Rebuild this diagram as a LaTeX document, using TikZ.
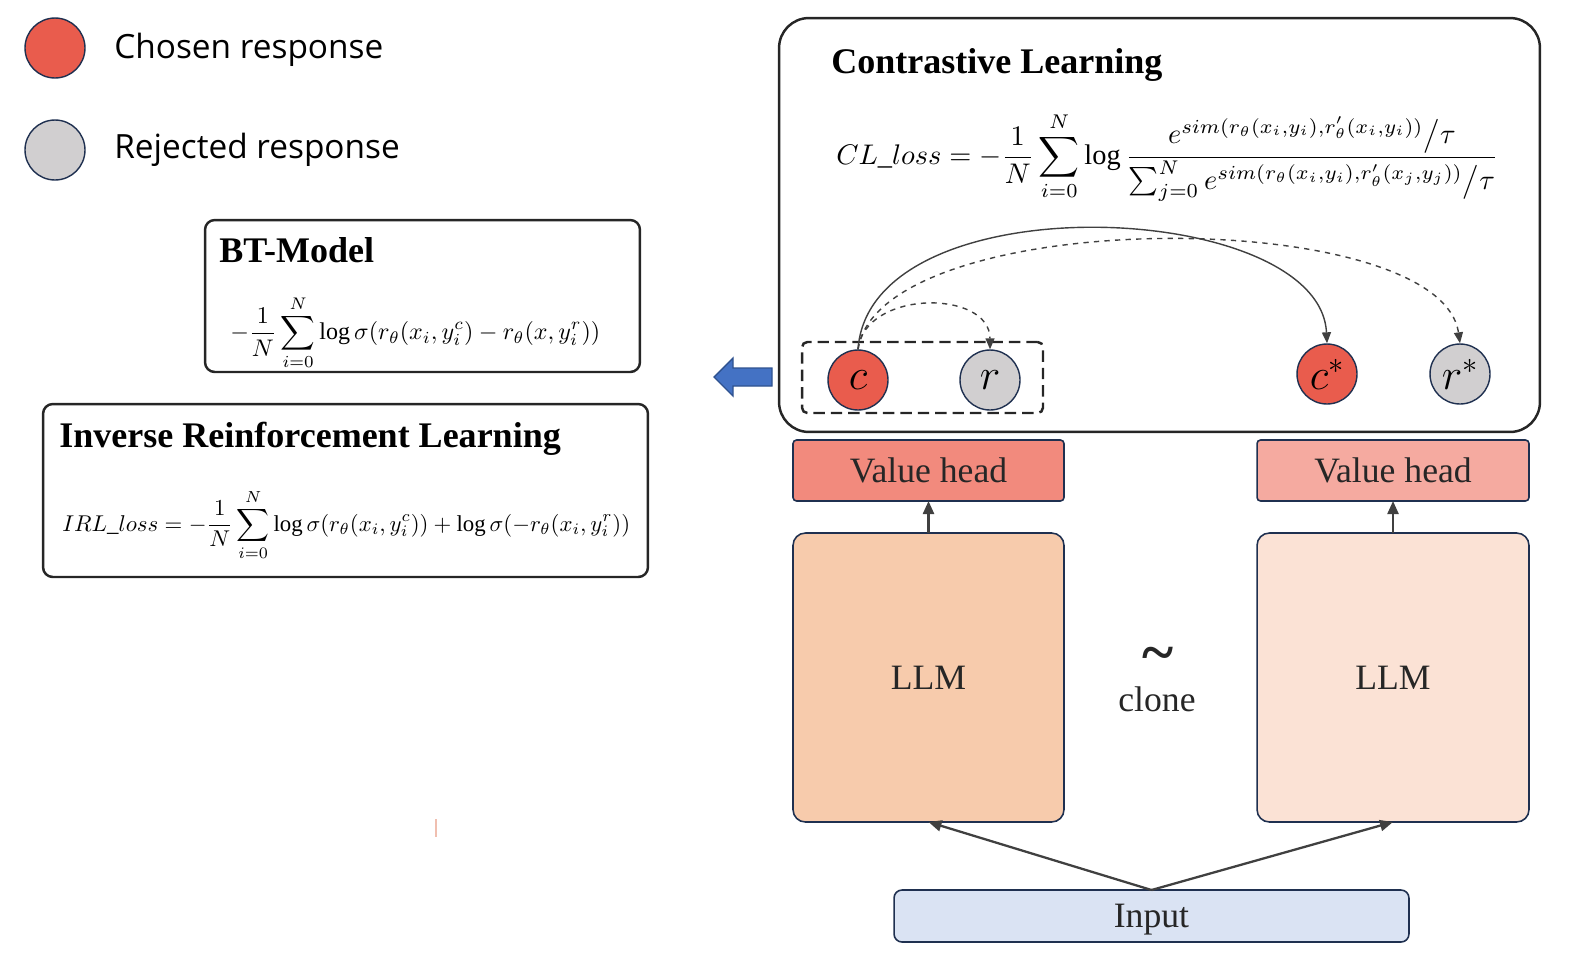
\documentclass[tikz,border=0pt]{standalone}
\usepackage{amsmath,amssymb}
\usepackage{fontspec}
\setmainfont{Liberation Serif}
\newfontfamily\legendfont{Open Sans}
\usepackage{xcolor}
\usepackage{graphicx}
\usetikzlibrary{arrows.meta}
\definecolor{chosen}{HTML}{E95C4D}
\definecolor{rejected}{HTML}{D1CFD0}
\definecolor{navy}{HTML}{1F3050}
\definecolor{headA}{HTML}{F28A7D}
\definecolor{headB}{HTML}{F5AAA0}
\definecolor{llmA}{HTML}{F7CBAC}
\definecolor{llmB}{HTML}{FBE2D5}
\definecolor{inputc}{HTML}{DAE3F3}
\definecolor{arrowc}{HTML}{404040}
\definecolor{bluearrow}{HTML}{4472C4}
\definecolor{bluedark}{HTML}{2F528F}
\definecolor{stray}{HTML}{F0BFB0}

\begin{document}
\begin{tikzpicture}[
  x=0.02cm, y=-0.02cm,
  panel/.style={draw=black!85, line width=1.4pt, inner sep=0pt, outer sep=0pt},
  resp/.style={circle, draw=navy, line width=0.8pt, minimum size=1.2cm, inner sep=0pt,
               font=\fontsize{25}{25}\selectfont},
  blk/.style={draw=navy, line width=0.9pt, inner sep=0pt, outer sep=0pt,
              font=\fontsize{20.3}{22}\selectfont, text=black!85},
  ttl/.style={anchor=base west, inner sep=0pt, font=\fontsize{20.5}{22}\selectfont\bfseries},
  frm/.style={anchor=west, inner sep=0pt},
  lgd/.style={anchor=west, inner sep=0pt, font=\legendfont\fontsize{19}{20}\selectfont},
  ar/.style={draw=arrowc, line width=1.3pt, -{Triangle[length=2.6mm,width=2.2mm]}},
  cur/.style={draw=arrowc, line width=0.8pt, -{Triangle[length=2.2mm,width=1.8mm]}}
]
\useasboundingbox (0,0) rectangle (1572,978);

% legend
\node[resp, fill=chosen] (lc) at (55,48) {};
\node[resp, fill=rejected] (lr) at (55,150) {};
\node[lgd] (lct) at (114,50) {Chosen response};
\node[lgd] (lrt) at (114,150) {Rejected response};

% left panels
\node[panel, rounded corners=5.5pt, minimum width=8.7cm, minimum height=3.04cm] (bt) at (422.5,296) {};
\node[ttl] (btt) at (219,262) {BT-Model};
\node[frm] (btf) at (230,333)
  {\resizebox{7.4cm}{!}{$\displaystyle -\frac{1}{N}\sum_{i=0}^{N}\log\sigma(r_\theta(x_i,y_i^c)-r_\theta(x,y_i^r))$}};

\node[panel, rounded corners=5.5pt, minimum width=12.1cm, minimum height=3.46cm] (irl) at (345.5,490.5) {};
\node[ttl] (irlt) at (59,447) {Inverse Reinforcement Learning};
\node[frm] (irlf) at (62,525)
  {\resizebox{11.36cm}{!}{$\displaystyle IRL\_loss=-\frac{1}{N}\sum_{i=0}^{N}\log\sigma(r_\theta(x_i,y_i^c))+\log\sigma(-r_\theta(x_i,y_i^r))$}};

% contrastive learning panel
\node[panel, rounded corners=17pt, minimum width=15.22cm, minimum height=8.28cm] (cl) at (1159.5,225) {};
\node[ttl] (clt) at (831,73) {Contrastive Learning};
\node[frm] (clf) at (836,157)
  {\resizebox{13.24cm}{!}{$\displaystyle CL\_loss=-\frac{1}{N}\sum_{i=0}^{N}\log
   \frac{e^{sim(r_\theta(x_i,y_i),r'_\theta(x_i,y_i))}\big/\tau}
        {\sum_{j=0}^{N}e^{sim(r_\theta(x_i,y_i),r'_\theta(x_j,y_j))}\big/\tau}$}};

\node[draw=black!85, line width=1.4pt, dash pattern=on 6.5pt off 3.4pt, rounded corners=3pt,
      minimum width=4.82cm, minimum height=1.42cm, inner sep=0pt] (pair) at (922.5,377.5) {};
\node[resp, fill=chosen] (c) at (858,380) {$c$};
\node[resp, fill=rejected] (r) at (990,380) {$r$};
\node[resp, fill=chosen] (cs) at (1327,374) {$c^*$};
\node[resp, fill=rejected] (rs) at (1460,374) {$r^*$};

\draw[cur] (c.north) .. controls +(12,-170) and +(-7,-144) .. (cs.north);
\draw[cur, dashed] (c.north) .. controls +(22,-145) and +(-20,-139) .. (rs.north);
\draw[cur, dashed] (c.north) .. controls +(7,-60) and +(0,-60) .. (r.north);

% blue arrow
\draw[fill=bluearrow, draw=bluedark, line width=0.8pt]
  (772,368) -- (733,368) -- (733,358) -- (714,377) -- (733,396) -- (733,386) -- (772,386) -- cycle;

% model stack
\node[blk, fill=headA, rounded corners=2pt, minimum width=5.42cm, minimum height=1.22cm] (vhA) at (928.5,470.5) {Value head};
\node[blk, fill=headB, rounded corners=2pt, minimum width=5.44cm, minimum height=1.22cm] (vhB) at (1393,470.5) {Value head};
\node[blk, fill=llmA, rounded corners=7pt, minimum width=5.42cm, minimum height=5.78cm] (llmA) at (928.5,677.5) {LLM};
\node[blk, fill=llmB, rounded corners=7pt, minimum width=5.44cm, minimum height=5.78cm] (llmB) at (1393,677.5) {LLM};
\node[blk, fill=inputc, rounded corners=4.5pt, minimum width=10.3cm, minimum height=1.04cm, text depth=0pt] (inp) at (1151.5,916) {Input};

\node[font=\fontsize{34}{34}\selectfont\bfseries, text=black!85, inner sep=0pt] (tl) at (1158,660) {\textasciitilde};
\node[font=\fontsize{20.3}{22}\selectfont, text=black!85] (cln) at (1157,699) {clone};

\draw[ar] (llmA) -- (vhA);
\draw[ar] (llmB) -- (vhB);
\draw[ar] (inp.north) -- (llmA.south);
\draw[ar] (inp.north) -- (llmB.south);

\draw[stray, line width=1.2pt] (436,819) -- (436,837);
\end{tikzpicture}
\end{document}
